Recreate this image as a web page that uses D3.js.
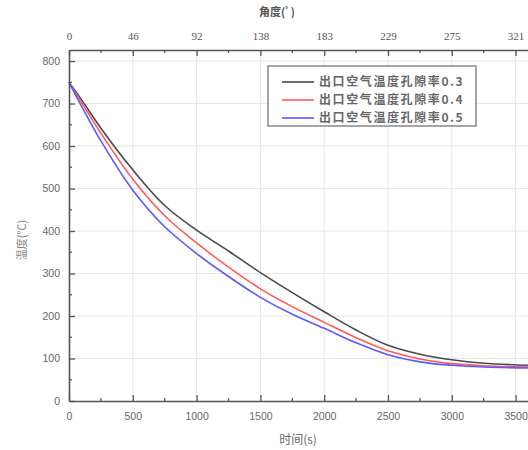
<!DOCTYPE html>
<html>
<head>
<meta charset="utf-8">
<script src="https://cdn.jsdelivr.net/npm/d3@7"></script>
<style>
  body { margin: 0; background: #fff; }
  svg { display: block; }
</style>
</head>
<body>
<div id="chart"></div>
<script>
// Time samples (s) and temperature readings (°C) for each porosity
const times   = [0, 100, 250, 500, 750, 1000, 1250, 1500, 1750, 2000, 2250, 2500, 2750, 3000, 3250, 3600];
const temp03  = [750, 708, 642, 544, 460, 402, 353, 302, 255, 210, 167, 131, 110, 97, 89, 84];
const temp04  = [750, 702, 630, 522, 436, 372, 315, 264, 222, 185, 149, 118, 99, 88, 83, 80];
const temp05  = [750, 693, 612, 496, 410, 347, 293, 244, 204, 171, 137, 109, 92, 84, 80, 78];

const seriesNames = ["出口空气温度孔隙率0.3", "出口空气温度孔隙率0.4", "出口空气温度孔隙率0.5"];
const seriesColors = ["#4a4a4a", "#ff5a5a", "#5a5aff"];

const xTicks = [0, 500, 1000, 1500, 2000, 2500, 3000, 3500];
const topTickLabels = ["0", "46", "92", "138", "183", "229", "275", "321"];
const yTicks = [0, 100, 200, 300, 400, 500, 600, 700, 800];

const W = 528, H = 450;
const margin = {top: 50, left: 69, bottom: 49};

const svg = d3.select("#chart")
  .append("svg")
    .attr("width", W)
    .attr("height", H);

// Scales: right edge of the plot sits just past the window
const x = d3.scaleLinear().domain([0, 3650]).range([margin.left, margin.left + 3650 * 0.1276]);
const y = d3.scaleLinear().domain([0, 826]).range([H - margin.bottom, margin.top]);

const x0 = x(0), x1 = x(3650), y0 = y(0), y1 = y(826);

// Grid lines at major ticks
svg.append("g")
  .selectAll("line")
  .data(xTicks.slice(1))
  .join("line")
    .attr("x1", d => x(d)).attr("x2", d => x(d))
    .attr("y1", y0).attr("y2", y1)
    .attr("stroke", "#e6e6e6").attr("stroke-width", 1);

svg.append("g")
  .selectAll("line")
  .data(yTicks.slice(1))
  .join("line")
    .attr("x1", x0).attr("x2", x1)
    .attr("y1", d => y(d)).attr("y2", d => y(d))
    .attr("stroke", "#e6e6e6").attr("stroke-width", 1);

// Curves
const line = d3.line()
  .x((d, i) => x(times[i]))
  .y(d => y(d))
  .curve(d3.curveCatmullRom.alpha(0.5));

[temp03, temp04, temp05].forEach((vals, i) => {
  svg.append("path")
    .datum(vals)
    .attr("fill", "none")
    .attr("stroke", seriesColors[i])
    .attr("stroke-width", 1.6)
    .attr("d", line);
});

const axisColor = "#555";
const minorX = d3.range(250, 3650, 500);
const minorY = d3.range(50, 826, 100);

// Bottom axis (ticks point inward)
const bottomAxis = svg.append("g").attr("transform", `translate(0,${y0})`)
  .call(d3.axisBottom(x).tickValues(xTicks).tickFormat(d3.format("d"))
    .tickSizeInner(-6).tickSizeOuter(0).tickPadding(12));
bottomAxis.select(".domain").attr("stroke", axisColor).attr("stroke-width", 1.6);
bottomAxis.selectAll(".tick line").attr("stroke", axisColor).attr("stroke-width", 1.3);
bottomAxis.selectAll("text")
  .style("font-family", "Liberation Sans, Arial, sans-serif")
  .style("font-size", "10.5px").attr("fill", "#666");
bottomAxis.selectAll(".minor").data(minorX).join("line")
  .attr("x1", d => x(d)).attr("x2", d => x(d))
  .attr("y1", 0).attr("y2", -3)
  .attr("stroke", axisColor).attr("stroke-width", 1.3);

// Top axis showing angle
const topAxis = svg.append("g").attr("transform", `translate(0,${y1})`)
  .call(d3.axisTop(x).tickValues(xTicks).tickFormat((d, i) => topTickLabels[i])
    .tickSizeInner(-6).tickSizeOuter(0).tickPadding(10));
topAxis.select(".domain").attr("stroke", axisColor).attr("stroke-width", 1.6);
topAxis.selectAll(".tick line").attr("stroke", axisColor).attr("stroke-width", 1.3);
topAxis.selectAll("text")
  .style("font-family", "Liberation Serif, Times New Roman, serif")
  .style("font-size", "11px").attr("fill", "#555");
topAxis.selectAll(".minor").data(minorX).join("line")
  .attr("x1", d => x(d)).attr("x2", d => x(d))
  .attr("y1", 0).attr("y2", 3)
  .attr("stroke", axisColor).attr("stroke-width", 1.3);

// Left axis
const leftAxis = svg.append("g").attr("transform", `translate(${x0},0)`)
  .call(d3.axisLeft(y).tickValues(yTicks).tickSizeInner(-6).tickSizeOuter(0).tickPadding(9));
leftAxis.select(".domain").attr("stroke", axisColor).attr("stroke-width", 1.6);
leftAxis.selectAll(".tick line").attr("stroke", axisColor).attr("stroke-width", 1.3);
leftAxis.selectAll("text")
  .style("font-family", "Liberation Sans, Arial, sans-serif")
  .style("font-size", "10.5px").attr("fill", "#666");
leftAxis.selectAll(".minor").data(minorY).join("line")
  .attr("x1", 0).attr("x2", 3)
  .attr("y1", d => y(d)).attr("y2", d => y(d))
  .attr("stroke", axisColor).attr("stroke-width", 1.3);

// Axis titles
svg.append("text")
  .attr("x", 277).attr("y", 16)
  .attr("text-anchor", "middle")
  .style("font-family", "Noto Sans CJK SC, sans-serif")
  .style("font-size", "11px").style("font-weight", "bold")
  .attr("fill", "#555")
  .text("角度(ﾟ)");

svg.append("text")
  .attr("x", 298).attr("y", 444)
  .attr("text-anchor", "middle")
  .style("font-family", "Noto Sans CJK SC, sans-serif")
  .style("font-size", "12px")
  .attr("fill", "#666")
  .text("时间(s)");

svg.append("text")
  .attr("transform", "translate(26,240) rotate(-90)")
  .attr("text-anchor", "middle")
  .style("font-family", "Noto Sans CJK SC, sans-serif")
  .style("font-size", "11px")
  .attr("fill", "#888")
  .text("温度(℃)");

// Legend
const legend = svg.append("g").attr("transform", "translate(268,66)");
legend.append("rect")
  .attr("width", 208).attr("height", 60)
  .attr("fill", "#fff")
  .attr("stroke", "#888").attr("stroke-width", 1.5);

seriesNames.forEach((name, i) => {
  const row = legend.append("g").attr("transform", `translate(0,${16 + i * 18})`);
  row.append("line")
    .attr("x1", 14).attr("x2", 46)
    .attr("stroke", seriesColors[i]).attr("stroke-width", 1.6);
  row.append("text")
    .attr("x", 51).attr("dy", "0.36em")
    .style("font-family", "Noto Sans CJK SC, sans-serif")
    .style("font-size", "12px").style("font-weight", "bold")
    .style("letter-spacing", "1.6px")
    .attr("fill", "#666")
    .text(name);
});
</script>
</body>
</html>
